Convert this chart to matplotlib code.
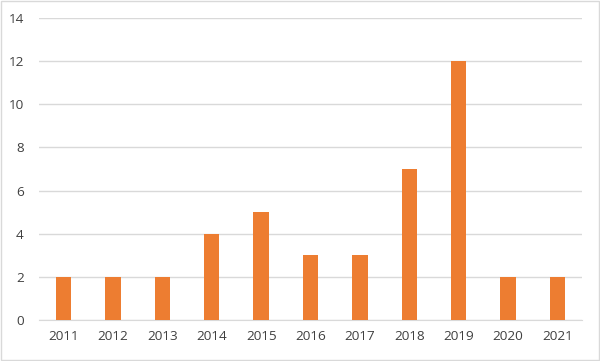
import matplotlib
matplotlib.use("Agg")
import matplotlib.pyplot as plt
from matplotlib.patches import Rectangle

years = ["2011", "2012", "2013", "2014", "2015", "2016",
         "2017", "2018", "2019", "2020", "2021"]
counts = [2, 2, 2, 4, 5, 3, 3, 7, 12, 2, 2]

plt.rcParams["font.family"] = ["Open Sans", "DejaVu Sans"]

fig = plt.figure(figsize=(6, 3.61), dpi=100)
ax = fig.add_axes([0.065, 0.1136, 0.905, 0.8364])

x = range(len(years))
ax.bar(x, counts, width=0.31, color="#ED7D31", zorder=3)

ax.set_xlim(-0.5, len(years) - 0.5)
ax.set_ylim(0, 14)
ax.set_yticks(range(0, 15, 2))
ax.set_xticks(list(x))
ax.set_xticklabels(years)

ax.grid(axis="y", color="#d9d9d9", linewidth=1, zorder=0)
for side in ["top", "right", "left"]:
    ax.spines[side].set_visible(False)
ax.spines["bottom"].set_color("#d9d9d9")
ax.tick_params(length=0, labelsize=9.7, colors="#404040", pad=7)
ax.tick_params(axis="y", pad=11)

# light outer border like the chart frame
fig.patches.append(Rectangle((0.002, 0.003), 0.996, 0.994, transform=fig.transFigure,
                             fill=False, edgecolor="#d9d9d9", linewidth=1))

fig.savefig("out.png", dpi=100)
